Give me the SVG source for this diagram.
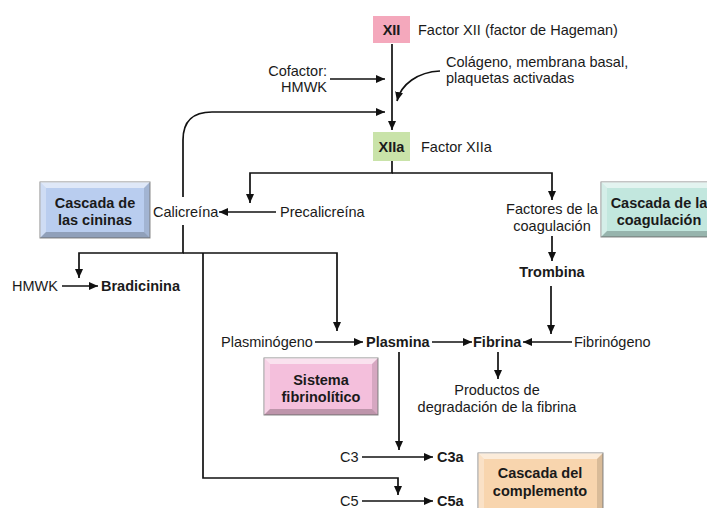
<svg xmlns="http://www.w3.org/2000/svg" width="707" height="508" viewBox="0 0 707 508">
<style>
text{font-family:"Liberation Sans",Arial,sans-serif;font-size:14.5px;fill:#1a1a1a}
.b{font-weight:bold}
.m{text-anchor:middle}
.e{text-anchor:end}
.ln{fill:none;stroke:#111;stroke-width:1.7}
.ar{marker-end:url(#ah)}
.box{stroke:#8a8a8a;stroke-width:1}
.hl{fill:#fff;opacity:.55}
.hl2{fill:#fff;opacity:.3}
.sh{fill:#000;opacity:.12}
.sh2{fill:#000;opacity:.22}
</style>
<defs>
<marker id="ah" markerUnits="userSpaceOnUse" markerWidth="10" markerHeight="8" refX="9" refY="4" orient="auto">
<path d="M0,0 L9,4 L0,8 Z" fill="#111"/>
</marker>
</defs>
<rect width="707" height="508" fill="#fff"/>

<g id="connectors">
<path class="ln ar" d="M392 44 L392 130"/>
<path class="ln ar" d="M330 79 L385 79"/>
<path class="ln ar" d="M440 71 C418 72 401 84 397 101"/>
<path class="ln ar" d="M183 197 L183 140 C183 122 192 112 212 112 L385 112"/>
<path class="ln ar" d="M392 161 L392 173 L250 173 L250 203"/>
<path class="ln ar" d="M392 173 L552 173 L552 200"/>
<path class="ln ar" d="M276 212 L219 212"/>
<path class="ln ar" d="M183 225 L183 253 L79 253 L79 278"/>
<path class="ln ar" d="M183 253 L337 253 L337 331"/>
<path class="ln ar" d="M203 253 L203 478 L398 478 L398 495"/>
<path class="ln ar" d="M62 286 L98 286"/>
<path class="ln ar" d="M552 236 L552 261"/>
<path class="ln ar" d="M551 286 L551 334"/>
<path class="ln ar" d="M315 342 L363 342"/>
<path class="ln ar" d="M432 342 L472 342"/>
<path class="ln ar" d="M572 342 L523 342"/>
<path class="ln ar" d="M498 352 L498 379"/>
<path class="ln ar" d="M399 352 L399 450"/>
<path class="ln ar" d="M362 457 L433 457"/>
<path class="ln ar" d="M362 501 L433 501"/>
</g>

<g id="XII">
<rect x="373" y="16" width="37" height="27" fill="#f4a8bc"/>
<text class="b m" x="391.5" y="35">XII</text>
<text x="418" y="35">Factor XII (factor de Hageman)</text>
</g>
<g id="cofactor">
<text class="e" x="327" y="76">Cofactor:</text>
<text class="e" x="327" y="92">HMWK</text>
</g>
<g id="colageno">
<text x="446" y="67">Colágeno, membrana basal,</text>
<text x="446" y="83">plaquetas activadas</text>
</g>
<g id="XIIa">
<rect x="373" y="132" width="37" height="29" fill="#c9e3a9"/>
<text class="b m" x="391.5" y="152">XIIa</text>
<text x="421" y="152">Factor XIIa</text>
</g>
<g id="cininas">
<rect class="box" x="40" y="182" width="110" height="56" fill="#b9cdef"/>
<polygon class="hl" points="40,182 150,182 144,188 46,188"/>
<polygon class="hl2" points="40,182 46,188 46,232 40,238"/>
<polygon class="sh" points="150,182 150,238 144,232 144,188"/>
<polygon class="sh2" points="40,238 46,232 144,232 150,238"/>
<text class="b m" x="95" y="208">Cascada de</text>
<text class="b m" x="95" y="225">las cininas</text>
</g>
<g id="calicreina"><text x="153" y="217">Calicreína</text></g>
<g id="precalicreina"><text x="280" y="217">Precalicreína</text></g>
<g id="factores">
<text class="m" x="552" y="214">Factores de la</text>
<text class="m" x="552" y="231">coagulación</text>
</g>
<g id="coagulacion">
<rect class="box" x="601" y="182" width="112" height="55" fill="#c2e7de"/>
<polygon class="hl" points="601,182 713,182 707,188 607,188"/>
<polygon class="hl2" points="601,182 607,188 607,231 601,237"/>
<polygon class="sh2" points="601,237 607,231 707,231 713,237"/>
<text class="b m" x="659" y="208">Cascada de la</text>
<text class="b m" x="659" y="225">coagulación</text>
</g>
<g id="trombina"><text class="b m" x="552" y="277">Trombina</text></g>
<g id="bradicinina">
<text x="12" y="291">HMWK</text>
<text class="b" x="101" y="291">Bradicinina</text>
</g>
<g id="plasminogeno"><text x="221" y="347">Plasminógeno</text></g>
<g id="plasmina"><text class="b" x="366" y="347">Plasmina</text></g>
<g id="fibrina"><text class="b" x="473" y="347">Fibrina</text></g>
<g id="fibrinogeno"><text x="574" y="347">Fibrinógeno</text></g>
<g id="productos">
<text class="m" x="497" y="395">Productos de</text>
<text class="m" x="497" y="412">degradación de la fibrina</text>
</g>
<g id="fibrinolitico">
<rect class="box" x="264" y="358" width="114" height="57" fill="#f4bfdc"/>
<polygon class="hl" points="264,358 378,358 372,364 270,364"/>
<polygon class="hl2" points="264,358 270,364 270,409 264,415"/>
<polygon class="sh" points="378,358 378,415 372,409 372,364"/>
<polygon class="sh2" points="264,415 270,409 372,409 378,415"/>
<text class="b m" x="321" y="385">Sistema</text>
<text class="b m" x="321" y="402">fibrinolítico</text>
</g>
<g id="C3">
<text x="340" y="462">C3</text>
<text class="b" x="437" y="462">C3a</text>
</g>
<g id="C5">
<text x="340" y="506">C5</text>
<text class="b" x="437" y="506">C5a</text>
</g>
<g id="complemento">
<rect class="box" x="478" y="453" width="125" height="62" fill="#f8d5ae"/>
<polygon class="hl" points="478,453 603,453 597,459 484,459"/>
<polygon class="hl2" points="478,453 484,459 484,509 478,515"/>
<polygon class="sh" points="603,453 603,515 597,509 597,459"/>
<polygon class="sh2" points="478,515 484,509 597,509 603,515"/>
<text class="b m" x="540" y="478">Cascada del</text>
<text class="b m" x="540" y="496">complemento</text>
</g>
</svg>
